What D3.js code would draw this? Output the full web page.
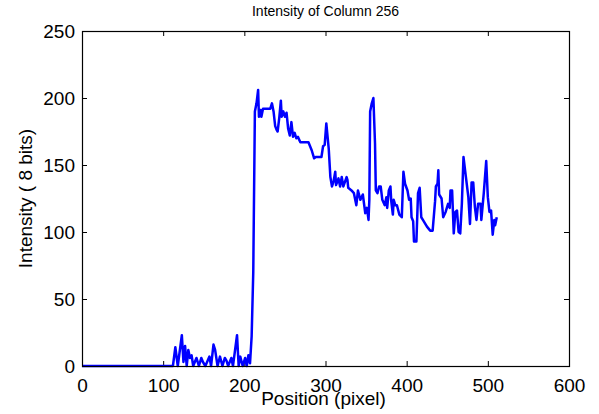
<!DOCTYPE html>
<meta charset="utf-8">
<html>

<head>
    <script src="https://d3js.org/d3.v7.min.js"></script>
    <title>Intensity of Column 256</title>
    <style>
        body { margin: 0; background: #fff; }
        text { font-family: Arial, "Liberation Sans", sans-serif; }
    </style>
</head>

<body>
    <div id="plot"></div>

    <script>

        // pixel position along the column
        var positions = [0, 112, 115, 118, 123, 125, 127, 129, 131, 133, 135, 137, 141, 144, 147, 149, 152, 157, 159,
            162, 164, 167, 170, 173, 176, 178, 180, 184, 186, 191, 193, 195, 198, 201, 203, 205, 207, 209, 211, 212,
            213, 215, 217, 218, 220, 221, 223, 232, 234, 236, 238, 240, 241, 243, 245, 246, 248, 250, 252, 254,
            256, 258, 260, 262, 264, 266, 269, 272, 279, 283, 286, 288, 295, 297, 299, 301, 304, 306, 308, 310,
            312, 313, 316, 318, 320, 322, 326, 327, 328, 332, 335, 338, 340, 343, 346, 349, 351, 353, 354, 355,
            357, 359, 361, 362, 364, 366, 368, 370, 373, 375, 376, 378, 380, 381, 383, 384, 386, 388, 391, 394,
            396, 398, 401, 403, 405, 406, 408, 409, 412, 414, 416, 418, 420, 425, 429, 432, 435, 436, 438, 439,
            440, 443, 445, 448, 451, 453, 454, 456, 458, 460, 462, 464, 466, 468, 470, 473, 476, 478, 480, 482,
            484, 486, 488, 491, 492, 495, 498, 500, 502, 504, 506, 508, 509, 511];

        // intensity (8 bits) at each of those positions
        var intensity = [0, 0, 14, 0, 23, 3, 15, 0, 12, 6, 8, 0, 6, 0, 6, 3, 0, 7, 0,
            16, 12, 0, 7, 0, 6, 4, 0, 6, 0, 23, 0, 7, 0, 6, 0, 8, 2, 22, 70, 130,
            190, 196, 206, 186, 191, 186, 192, 192, 196, 190, 179, 176, 175, 185, 198, 186, 190, 186, 189, 177,
            172, 182, 171, 174, 170, 171, 167, 167, 167, 161, 155, 156, 156, 164, 165, 181, 162, 141, 134, 138,
            145, 135, 140, 134, 141, 134, 141, 139, 133, 131, 129, 120, 131, 124, 128, 114, 118, 109, 124, 190,
            196, 200, 166, 131, 129, 134, 134, 124, 120, 126, 118, 131, 134, 123, 113, 124, 120, 120, 113, 111,
            145, 136, 131, 124, 125, 111, 108, 93, 93, 129, 133, 111, 109, 104, 101, 101, 123, 134, 136, 146,
            128, 125, 111, 115, 121, 118, 131, 131, 99, 115, 116, 100, 99, 121, 156, 141, 126, 106, 137, 137,
            119, 109, 121, 121, 109, 129, 153, 126, 115, 116, 98, 109, 105, 111];

        var xTicks = [0, 100, 200, 300, 400, 500, 600];
        var yTicks = [0, 50, 100, 150, 200, 250];

        var data = positions.map(function (p, i) { return { pos: p, val: intensity[i] }; });

        // set the dimensions and margins of the graph
        var margin = { top: 31, right: 30, bottom: 48, left: 82 };
        var width = 599 - margin.left - margin.right;
        var height = 414 - margin.top - margin.bottom;

        var svg = d3.select("#plot")
            .append("svg")
            .attr("width", width + margin.left + margin.right)
            .attr("height", height + margin.top + margin.bottom)
            .append("g")
            .attr("transform", "translate(" + margin.left + "," + margin.top + ")");

        var x = d3.scaleLinear().domain([0, 600]).range([0, width]);
        var y = d3.scaleLinear().domain([0, 250]).range([height, 0]);

        // axes, matlab style: ticks point inwards on all four sides
        var xAxis = svg.append("g")
            .attr("transform", "translate(0," + height + ")")
            .call(d3.axisBottom(x).tickValues(xTicks).tickSizeInner(-5).tickSizeOuter(0).tickPadding(13));
        var yAxis = svg.append("g")
            .call(d3.axisLeft(y).tickValues(yTicks).tickSizeInner(-5).tickSizeOuter(0).tickPadding(7));
        var topAxis = svg.append("g")
            .call(d3.axisTop(x).tickValues(xTicks).tickSizeInner(-5).tickSizeOuter(0).tickFormat(""));
        var rightAxis = svg.append("g")
            .attr("transform", "translate(" + width + ",0)")
            .call(d3.axisRight(y).tickValues(yTicks).tickSizeInner(-5).tickSizeOuter(0).tickFormat(""));

        svg.selectAll(".domain").remove();
        svg.selectAll(".tick line").attr("stroke", "#000");
        svg.selectAll(".tick text")
            .attr("fill", "#000")
            .style("font-size", "19px")
            .style("font-family", "Arial, 'Liberation Sans', sans-serif");

        // the intensity profile
        var line = d3.line()
            .x(function (d) { return x(d.pos); })
            .y(function (d) { return y(d.val); });

        svg.append("path")
            .datum(data)
            .attr("fill", "none")
            .attr("stroke", "#0000ff")
            .attr("stroke-width", 2.5)
            .attr("stroke-linejoin", "round")
            .attr("d", line);

        // box
        svg.append("rect")
            .attr("x", 0.5)
            .attr("y", 0.5)
            .attr("width", width)
            .attr("height", height)
            .attr("fill", "none")
            .attr("stroke", "#000")
            .attr("stroke-width", 1.2);

        // title and labels
        svg.append("text")
            .attr("x", width / 2)
            .attr("y", 16 - margin.top)
            .attr("text-anchor", "middle")
            .style("font-size", "14px")
            .text("Intensity of Column 256");

        svg.append("text")
            .attr("x", width / 2 - 2)
            .attr("y", height + 39)
            .attr("text-anchor", "middle")
            .style("font-size", "19px")
            .text("Position (pixel)");

        svg.append("text")
            .attr("transform", "translate(" + (32 - margin.left) + "," + (height / 2) + ") rotate(-90)")
            .attr("text-anchor", "middle")
            .style("font-size", "19px")
            .text("Intensity ( 8 bits)");

    </script>

</body>

</html>
